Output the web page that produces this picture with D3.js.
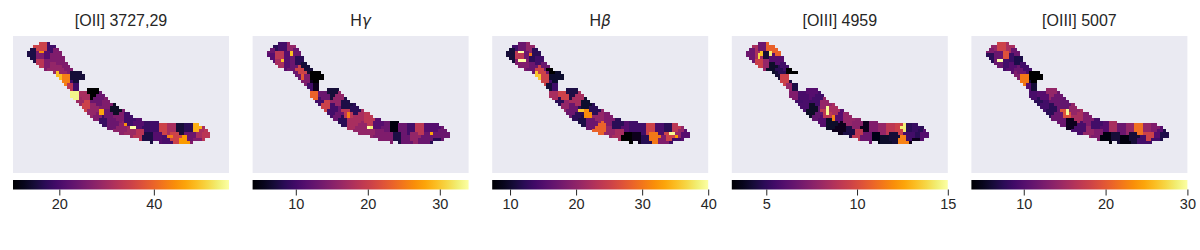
<!DOCTYPE html>
<html><head><meta charset="utf-8">
<script src="https://cdn.jsdelivr.net/npm/d3@7/dist/d3.min.js"></script>
<style>html,body{margin:0;padding:0;background:#fff}svg{display:block}text{font-family:"Liberation Sans",Arial,sans-serif;fill:#262626}</style>
</head><body><svg id="c" width="1200" height="250"></svg>
<script>
// grid: column index starting at firstCol, rows top..bottom that hold spaxels
const firstCol = 5;
const colTop = [5,4,3,3,2,2,2,2,3,3,4,5,7,9,10,11,12,12,19,19,19,18,18,18,18,19,20,21,22,23,23,24,25,25,26,26,27,28,28,28,29,29,29,29,29,29,30,30,30,30,30,30,30,30,30,30,30,30,30,30,31,31,32,33];
const colBot = [6,7,8,9,10,10,11,11,11,12,13,14,15,16,17,20,21,22,23,24,25,26,27,28,28,29,30,30,31,31,32,32,33,33,33,33,34,34,34,35,35,35,35,36,35,35,36,36,36,36,36,36,36,36,36,36,36,36,35,35,35,35,34,34];
const bumpCells = [[23,12],[23,13],[23,14],[24,13],[24,14]];
// regions (col,row of centre)
const seedCol = [7,8.2,10.5,13,15.4,7,9.4,11.7,14,16.3,9.4,11.7,14,17,18.6,15.7,18,19.8,22.3,21.9,21.5,23.3,25,27.9,25.6,29.6,27.9,30.2,32.8,33,36,31.4,34.8,37.2,40.6,38.3,41.2,44,44,47,49.6,47,50.5,52.8,55.7,53.4,56.8,58.6,60.3,62,63.8,65.5,67.2,62,64.3];
const seedRow = [5.3,3.5,3.5,4,5.3,7.5,6.4,6.4,7.6,8.7,9.8,9.8,11,11.6,10.4,13.9,15,17.9,13.9,17.3,20.7,22.5,20.2,19.6,24.2,21.9,25.3,27,23,26.5,25.3,28.7,29.3,27.6,28.7,31.6,32.8,30.5,33.9,31,30.7,34.5,35,31.6,31.8,35.6,34.5,31.8,35.6,32.2,36,33.3,34.1,34.5,31.8];

const titles = ["[OII] 3727,29",["H","γ"],["H","β"],"[OIII] 4959","[OIII] 5007"];
const domains = [[10.2,55.9],[4,34],[7.3,40],[3.1,15],[3.6,30]];
const tickVals = [[20,40],[10,20,30],[10,20,30,40],[5,10,15],[10,20,30]];

const oii = [15.7,35.3,35.3,19.3,26.2,15.7,26.2,21.6,26.2,26.2,33,26.2,28.5,28.5,26.2,49,43.1,33,14.8,19.3,54.5,29.4,30.8,10.2,35.3,23.9,28.5,26.2,26.2,23.9,13.4,18.4,23.9,26.2,19.3,27.6,29.4,21.6,33,18.4,19.3,15.7,21.6,35.3,30.8,20.3,35.3,14.8,45.8,17,26.2,30.8,33,23.9,47.7];
const hg = [13,8.5,10,16,13,11.5,19,11.5,13,8.5,17.5,11.5,13,20.5,7,13,14.5,10,4,5.5,23.5,10,13,7,20.5,16,10,13,7.6,19,8.5,8.5,17.5,17.5,19,16,16,11.5,14.5,13,4.9,14.5,7.6,13,10,13,16,19,13,11.5,8.5,13,13,13,11.5];
const hb = [10.6,13.8,17.1,20.4,12.2,10.6,23.7,17.1,12.2,13.8,18.7,18.7,17.1,25.3,17.1,35.7,25.3,10.6,9.9,13.8,22,12.2,25.3,11.2,20.4,22,17.1,12.2,9.9,31.8,12.2,11.2,17.1,20.4,18.7,28.6,20.4,12.2,22,15.5,13.8,7.3,8.9,13.8,25.3,12,30.2,14.5,18.7,12.2,13.8,20.4,15.5,25.3,23.7];
const o4959 = [6.7,8.5,6.7,10.8,10.8,6.7,8.5,4.3,6.1,6.1,9.6,7.9,4,4.9,5.5,4.3,9.6,7.9,null,4.5,7.3,5.5,5.7,6.1,5.7,5.5,3.9,6.4,7.9,9.1,8.5,6.1,4,6.1,7.9,3.7,4.5,7.6,9.1,3.7,7.3,6.7,3.5,7.9,9.1,4,4.3,9.6,11.7,4.9,3.7,4.9,6.1,5.5,5.2];
const o5007 = [12.8,14.2,18.1,15.5,11.5,7.6,11.5,19.4,8.4,6.8,11.5,8.9,10.2,11.5,8.9,12.8,22.1,10.2,3.6,6.2,9.4,7.6,10.2,14.2,8.9,11.5,7.6,11.5,11,19.4,14.2,11.5,4.9,15.5,12.8,9.4,14.2,8.9,12.8,10.2,15.5,4.1,6.2,11.5,14.2,4.4,6.2,21.6,8.9,14.2,8.9,10.2,6.8,18.1,12.8];
const series = [oii,hg,hb,o4959,o5007];

// single-spaxel bins: [col,row,value]
const spotsOii = [[41,31,55.9],[42,31,55.9],[39,30,44.5],[9,5,44.5],[10,5,44.5],[30,25,46.8],[31,25,46.8],[30,26,46.8],[31,26,46.8],[54,34,43.1],[55,34,43.1]];
const spotsHg = [[13,5,29.5],[13,6,29.5],[10,8,29.5],[17,13,22.6],[17,14,22.6],[33,26,25.6],[33,27,25.6],[40,31,34],[41,31,32.5],[62,33,28]];
const spotsHb = [[9,5,40],[10,5,40],[9,8,40],[10,8,40],[11,8,40],[13,6,30.2],[30,25,36],[31,25,36],[62,33,39.3],[63,33,39.3],[64,34,32.8],[20,12,7.3],[21,12,7.3],[20,11,7.3],[19,11,7.3]];
const spotsO4959 = [[9,7,13.8],[9,6,13.8],[10,5,13.2],[10,6,13.2],[13,5,14.4],[13,6,14.4],[19,11,3.1],[20,11,3.1],[21,11,3.1],[19,12,3.1],[20,12,3.1],[21,12,3.1],[22,12,3.1],[33,24,14.8],[33,25,14.8],[33,26,14.8],[35,27,11.7],[35,28,11.7],[60,30,14.4],[60,31,14.4],[60,32,14.4],[59,31,14.4]];
const spotsO5007 = [[9,8,30],[10,8,30],[33,25,29.5],[33,26,29.5]];
const spots = [spotsOii,spotsHg,spotsHb,spotsO4959,spotsO5007];

const nCols = 75.6, nRows = 47;
const panelLeft = [13,252.6,492.2,731.8,971.4], panelW = 216, panelTop = 36, panelH = 137;
const barTop = 180, barH = 9.5;

// spaxel list
const cells = [];
colTop.forEach((t,i)=>{ for(let r=t;r<=colBot[i];r++) cells.push([firstCol+i,r]); });
bumpCells.forEach(c=>cells.push(c));
// region of each spaxel
const region = cells.map(([c,r])=>d3.leastIndex(seedCol.map((sc,k)=>(c+.5-sc)**2+(r+.5-seedRow[k])**2)));

const svg = d3.select("#c");
const defs = svg.append("defs");
defs.append("filter").attr("id","soft").append("feGaussianBlur").attr("stdDeviation",0.3);
series.forEach((vals,p)=>{
  const g = svg.append("g").attr("transform",`translate(${panelLeft[p]},0)`);
  const x = d3.scaleLinear([0,nCols],[0,panelW]);
  const y = d3.scaleLinear([0,nRows],[panelTop,panelTop+panelH]);
  const color = d3.scaleSequential(d3.interpolateInferno).domain(domains[p]);
  g.append("rect").attr("y",panelTop).attr("width",panelW).attr("height",panelH).attr("fill","#EAEAF2");
  const spot = new Map(spots[p].map(s=>[s[0]+"_"+s[1],s[2]]));
  const data = cells.map((c,i)=>{
    const k=c[0]+"_"+c[1];
    return {c:c[0],r:c[1],v:spot.has(k)?spot.get(k):vals[region[i]]};
  }).filter(d=>d.v!==null);
  g.append("g").attr("filter","url(#soft)").selectAll("rect").data(data).join("rect")
    .attr("shape-rendering","crispEdges")
    .attr("x",d=>x(d.c)).attr("y",d=>y(d.r))
    .attr("width",x(1)-x(0)+.3).attr("height",y(1)-y(0)+.3)
    .attr("fill",d=>color(d.v));
  // title
  const t = g.append("text").attr("x",panelW/2).attr("y",26).attr("text-anchor","middle").attr("font-size",16);
  if(Array.isArray(titles[p])){
    t.append("tspan").text(titles[p][0]);
    t.append("tspan").attr("font-style","italic").style("font-family","'DejaVu Sans'").attr("font-size",15).text(titles[p][1]);
  } else t.text(titles[p]);
  // colourbar
  const id="cb"+p;
  const grad=defs.append("linearGradient").attr("id",id);
  d3.range(0,1.001,.05).forEach(f=>grad.append("stop").attr("offset",f).attr("stop-color",d3.interpolateInferno(f)));
  g.append("rect").attr("y",barTop).attr("width",panelW).attr("height",barH).attr("fill",`url(#${id})`);
  const bx = d3.scaleLinear(domains[p],[0,panelW]);
  const ax = g.append("g").attr("transform",`translate(0,${barTop+barH})`)
    .call(d3.axisBottom(bx).tickValues(tickVals[p]).tickSize(6).tickPadding(3).tickFormat(d3.format("d")));
  ax.select(".domain").remove();
  ax.selectAll("line").attr("stroke","#262626").attr("stroke-width",1);
  ax.selectAll("text").attr("font-size",14.5).style("font-family",'"Liberation Sans"').attr("fill","#262626");
});
</script></body></html>
